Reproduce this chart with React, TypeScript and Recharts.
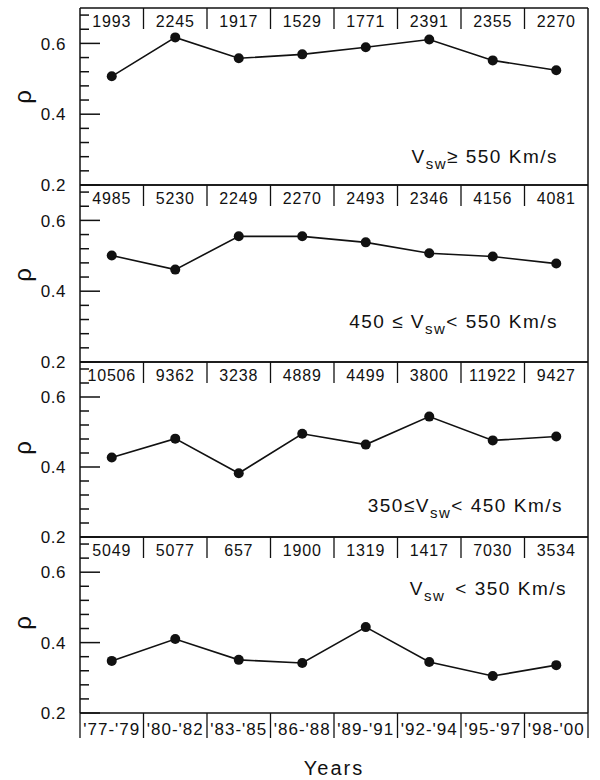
import React from "react";
import { LineChart, Line, XAxis, YAxis } from "recharts";

const periods = ["'77-'79", "'80-'82", "'83-'85", "'86-'88", "'89-'91", "'92-'94", "'95-'97", "'98-'00"];

// V_sw >= 550
const rhoFast = [0.507, 0.617, 0.558, 0.569, 0.589, 0.611, 0.552, 0.524];
const nFast = [1993, 2245, 1917, 1529, 1771, 2391, 2355, 2270];
// 450 <= V_sw < 550
const rhoMidHigh = [0.501, 0.461, 0.555, 0.555, 0.538, 0.507, 0.498, 0.478];
const nMidHigh = [4985, 5230, 2249, 2270, 2493, 2346, 4156, 4081];
// 350 <= V_sw < 450
const rhoMidLow = [0.427, 0.481, 0.382, 0.495, 0.464, 0.544, 0.476, 0.487];
const nMidLow = [10506, 9362, 3238, 4889, 4499, 3800, 11922, 9427];
// V_sw < 350
const rhoSlow = [0.348, 0.41, 0.351, 0.342, 0.444, 0.345, 0.305, 0.336];
const nSlow = [5049, 5077, 657, 1900, 1319, 1417, 7030, 3534];

const yTicks = [0.2, 0.24, 0.28, 0.32, 0.36, 0.4, 0.44, 0.48, 0.52, 0.56, 0.6, 0.64, 0.68];
const majorTicks = [0.2, 0.4, 0.6];

// ── layout ───────────────────────────────────────────────────────
const W = 600;
const PL = 80;
const PR = 12;
const PAD = 30;
const BAND = (W - PL - PR) / 8;
const FONT = "'Liberation Sans', Arial, Helvetica, sans-serif";
const INK = "#111";

const panelTops = [8, 185, 362, 537];
const panelBottom = 713;

const panels = [
  { rho: rhoFast, n: nFast },
  { rho: rhoMidHigh, n: nMidHigh },
  { rho: rhoMidLow, n: nMidLow },
  { rho: rhoSlow, n: nSlow },
];

function YTick({ y, payload }: any) {
  const v = payload.value as number;
  const major = majorTicks.some((m) => Math.abs(m - v) < 1e-6);
  return (
    <g>
      <line x1={PL} x2={PL + (major ? 20 : 9)} y1={y} y2={y} stroke={INK} strokeWidth={1.5} />
      {major && (
        <text x={PL - 14} y={y} dy="0.36em" textAnchor="end" fontSize={17} letterSpacing={0.5} fill={INK} fontFamily={FONT}>
          {v.toFixed(1)}
        </text>
      )}
    </g>
  );
}

function CountTick({ x, payload, index }: any) {
  return (
    <g>
      {index > 0 && <line x1={x - BAND / 2} x2={x - BAND / 2} y1={PAD} y2={PAD + 21} stroke={INK} strokeWidth={1.3} />}
      <text x={x} y={PAD + 19} textAnchor="middle" fontSize={16} letterSpacing={0.8} fill={INK} fontFamily={FONT}>
        {payload.value}
      </text>
    </g>
  );
}

function makePeriodTick(bottom: number) {
  return function PeriodTick({ x, payload, index }: any) {
    return (
      <g>
        <line x1={x - BAND / 2} x2={x - BAND / 2} y1={bottom} y2={bottom + 25} stroke={INK} strokeWidth={1.3} />
        {index === periods.length - 1 && (
          <line x1={x + BAND / 2} x2={x + BAND / 2} y1={bottom} y2={bottom + 25} stroke={INK} strokeWidth={1.3} />
        )}
        <text x={x} y={bottom + 22} textAnchor="middle" fontSize={17} letterSpacing={1} fill={INK} fontFamily={FONT}>
          {payload.value}
        </text>
      </g>
    );
  };
}

function Panel({ idx }: { idx: number }) {
  const top = panelTops[idx];
  const bottom = idx < 3 ? panelTops[idx + 1] : panelBottom;
  const h = bottom - top;
  const last = idx === 3;
  const data = periods.map((p, i) => ({ p, rho: panels[idx].rho[i], n: panels[idx].n[i] }));
  const PeriodTick = makePeriodTick(PAD + h);
  const pad = { left: BAND / 2, right: BAND / 2 };
  return (
    <div style={{ position: "absolute", left: 0, top: top - PAD }}>
      <LineChart width={W} height={h + 2 * PAD} data={data} margin={{ top: PAD - 1, right: PR - 1, bottom: PAD - 1, left: PL - 1 }}>
        <XAxis
          xAxisId="b"
          dataKey="p"
          height={1}
          interval={0}
          padding={pad}
          axisLine={{ stroke: INK, strokeWidth: 1.5 }}
          tickLine={false}
          tick={last ? <PeriodTick /> : false}
        />
        <XAxis
          xAxisId="t"
          dataKey="n"
          orientation="top"
          height={1}
          interval={0}
          padding={pad}
          axisLine={{ stroke: INK, strokeWidth: 1.5 }}
          tickLine={false}
          tick={<CountTick />}
        />
        <YAxis
          yAxisId="l"
          type="number"
          domain={[0.2, 0.7]}
          ticks={yTicks}
          interval={0}
          width={1}
          axisLine={{ stroke: INK, strokeWidth: 1.5 }}
          tickLine={false}
          tick={<YTick />}
        />
        <YAxis
          yAxisId="r"
          orientation="right"
          type="number"
          domain={[0.2, 0.7]}
          width={1}
          axisLine={{ stroke: INK, strokeWidth: 1.5 }}
          tickLine={false}
          tick={false}
        />
        <Line
          xAxisId="b"
          yAxisId="l"
          dataKey="rho"
          type="linear"
          stroke={INK}
          strokeWidth={1.6}
          dot={{ r: 5, fill: INK, stroke: INK, strokeWidth: 0 }}
          isAnimationActive={false}
        />
      </LineChart>
    </div>
  );
}

const textStyle = { fontFamily: FONT, fill: INK } as const;

export default function App() {
  return (
    <div style={{ position: "absolute", left: 0, top: 0, width: W, height: 780, background: "#fff" }}>
      {[0, 1, 2, 3].map((i) => (
        <Panel key={i} idx={i} />
      ))}
      <svg width={W} height={780} style={{ position: "absolute", left: 0, top: 0, pointerEvents: "none" }}>
        {[97, 275, 448, 623].map((y, i) => (
          <text key={i} x={22} y={y} transform={`rotate(-90 22 ${y})`} textAnchor="middle" dominantBaseline="central" fontSize={24} {...textStyle}>
            ρ
          </text>
        ))}
        <text x={558} y={163} textAnchor="end" fontSize={19} letterSpacing={1.5} {...textStyle}>
          V<tspan dy={6} fontSize={15}>sw</tspan>
          <tspan dy={-6}>≥ 550 Km/s</tspan>
        </text>
        <text x={558} y={328} textAnchor="end" fontSize={19} letterSpacing={1.5} {...textStyle}>
          450 ≤ V<tspan dy={6} fontSize={15}>sw</tspan>
          <tspan dy={-6}>&lt; 550 Km/s</tspan>
        </text>
        <text x={563} y={512} textAnchor="end" fontSize={19} letterSpacing={1.5} {...textStyle}>
          350≤V<tspan dy={6} fontSize={15}>sw</tspan>
          <tspan dy={-6}>&lt; 450 Km/s</tspan>
        </text>
        <text x={567} y={595} textAnchor="end" fontSize={19} letterSpacing={1.5} {...textStyle}>
          V<tspan dy={6} fontSize={15}>sw</tspan>
          <tspan dy={-6} dx={10}>&lt; 350 Km/s</tspan>
        </text>
        <text x={334} y={775} textAnchor="middle" fontSize={20} letterSpacing={2} {...textStyle}>
          Years
        </text>
      </svg>
    </div>
  );
}
